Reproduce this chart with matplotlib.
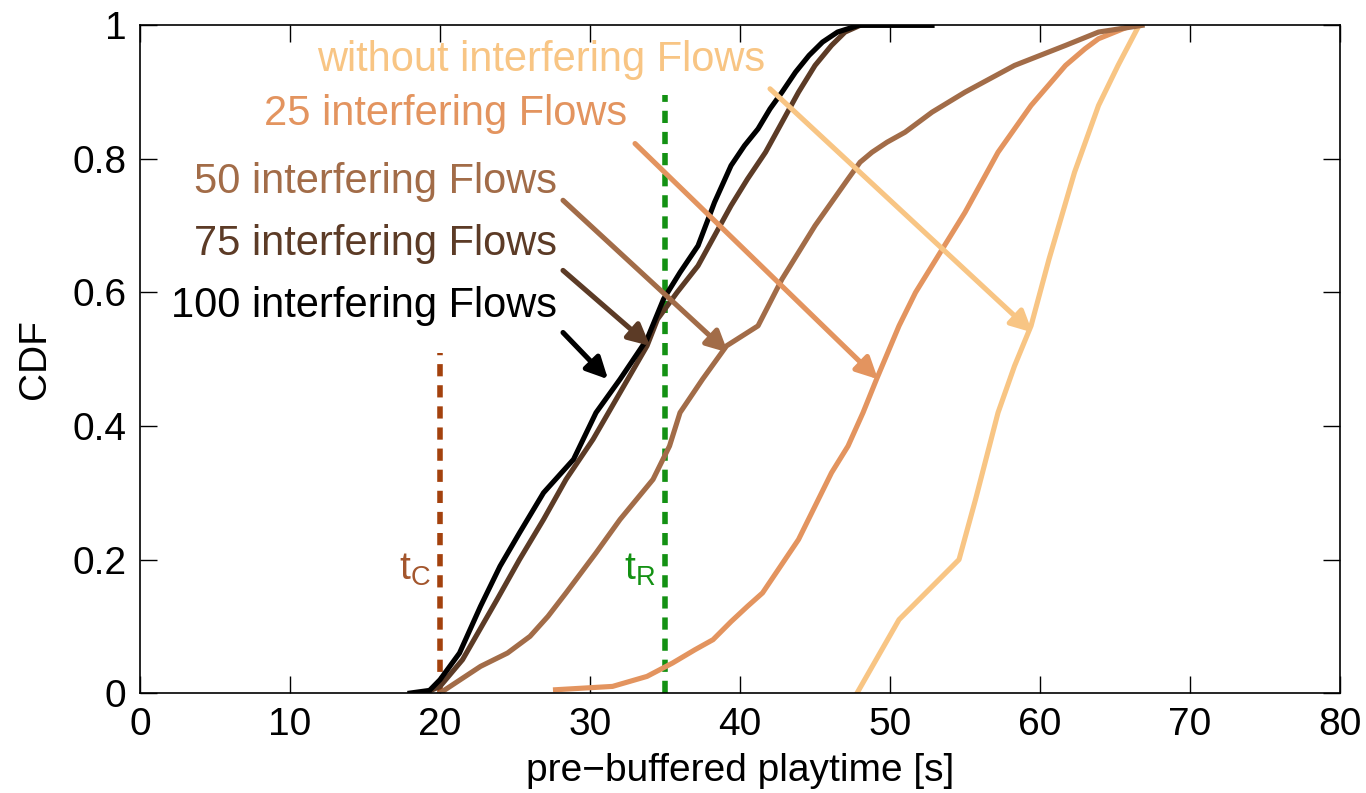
import matplotlib
matplotlib.use("Agg")
from matplotlib import pyplot as plt

plt.rcParams['font.family'] = ['Liberation Sans', 'DejaVu Sans']

# CDF curves of pre-buffered playtime, one per load level
x_none = [47.8, 50.6, 54.6, 55.7, 57.2, 58.3, 59.4, 60.6, 62.3, 63.9, 65.2, 66.6]
y_none = [0, 0.11, 0.20, 0.29, 0.42, 0.49, 0.55, 0.65, 0.78, 0.88, 0.94, 1.0]

x_25 = [27.7, 31.5, 33.8, 35.5, 37, 38.2, 39.4, 40.5, 41.5, 42.7, 43.9, 45,
        46.1, 47.2, 48.2, 49.1, 50.6, 51.7, 52.8, 55, 57.2, 59.4, 61.7, 63,
        63.9, 66.1]
y_25 = [0.005, 0.01, 0.025, 0.045, 0.065, 0.08, 0.107, 0.13, 0.15, 0.19,
        0.23, 0.28, 0.33, 0.37, 0.42, 0.47, 0.55, 0.60, 0.64, 0.72, 0.81,
        0.88, 0.94, 0.965, 0.98, 1.0]

x_50 = [20, 22.7, 24.5, 26, 27.2, 28.4, 30.4, 32, 34.2, 35.3, 36, 37.5, 39.1,
        41.2, 42.8, 45, 47.2, 48, 48.8, 49.8, 51, 52.8, 55, 58.3, 61.7, 63.9,
        66.8]
y_50 = [0, 0.04, 0.06, 0.085, 0.115, 0.15, 0.21, 0.26, 0.32, 0.37, 0.42, 0.47,
        0.52, 0.55, 0.62, 0.70, 0.77, 0.795, 0.81, 0.825, 0.84, 0.87, 0.90,
        0.94, 0.97, 0.99, 1.0]

x_75 = [19, 20, 21.5, 23.8, 25.3, 26.9, 28.4, 30.2, 32, 33.8, 34.5, 35.8, 37.2,
        38.3, 39.4, 40.5, 41.7, 42.8, 43.9, 45, 46.1, 47, 48]
y_75 = [0, 0.01, 0.05, 0.14, 0.2, 0.26, 0.32, 0.38, 0.45, 0.52, 0.56, 0.60,
        0.64, 0.685, 0.73, 0.77, 0.81, 0.855, 0.90, 0.94, 0.97, 0.99, 1.0]

x_100 = [18, 19.3, 20, 21.3, 22.7, 24, 25.3, 26.9, 28.9, 30.4, 32, 33.8, 34.9,
         36, 37.2, 38.3, 39.4, 40.3, 41.2, 42, 42.8, 43.7, 44.6, 45.5, 46.5,
         47.9, 52.8]
y_100 = [0, 0.004, 0.02, 0.06, 0.13, 0.19, 0.24, 0.30, 0.35, 0.42, 0.47, 0.53,
         0.59, 0.63, 0.67, 0.735, 0.79, 0.82, 0.845, 0.875, 0.90, 0.93, 0.955,
         0.975, 0.99, 1.0, 1.0]

labels = ['without interfering Flows', '25 interfering Flows',
          '50 interfering Flows', '75 interfering Flows',
          '100 interfering Flows']
colors = ['#f8c584', '#e3945f', '#a26c48', '#5c3b26', '#000000']
series = [(x_none, y_none), (x_25, y_25), (x_50, y_50), (x_75, y_75),
          (x_100, y_100)]

# label anchor (right end of text) and arrow start / tip in data units
label_pos = [(41.7, 0.948), (32.5, 0.868), (27.8, 0.766), (27.8, 0.673),
             (27.8, 0.579)]
arrow_from = [(42.0, 0.905), (33.0, 0.823), (28.2, 0.738), (28.2, 0.633),
              (28.2, 0.54)]
arrow_to = [(59.5, 0.54), (49.2, 0.47), (39.2, 0.51), (34.0, 0.52),
            (31.2, 0.47)]

t_c, t_c_top = 20, 0.51
t_r, t_r_top = 35, 0.895

fs = 28

fig = plt.figure(figsize=(13.66, 7.93), dpi=100)
ax = fig.add_axes([0.1025, 0.126, 0.8785, 0.842])

ax.plot([t_c, t_c], [0, t_c_top], color='#a3410d', lw=4, ls=(0, (2.2, 1.6)))
ax.plot([t_r, t_r], [0, t_r_top], color='#139113', lw=4, ls=(0, (2.2, 1.6)))
ax.text(t_c - 0.6, 0.185, r'$\mathregular{t_C}$', color='#a3562d', fontsize=fs,
        ha='right', va='center')
ax.text(t_r - 0.6, 0.185, r'$\mathregular{t_R}$', color='#139113', fontsize=fs,
        ha='right', va='center')

for (xs, ys), c in zip(series, colors):
    ax.plot(xs, ys, color=c, lw=3.7, solid_joinstyle='round')

for lab, c, lp, a0, a1 in zip(labels, colors, label_pos, arrow_from, arrow_to):
    ax.text(lp[0], lp[1], lab, color=c, fontsize=30, ha='right', va='center')
    ax.annotate('', xy=a1, xytext=a0,
                arrowprops=dict(arrowstyle='-|>', color=c, lw=3.7,
                                mutation_scale=32, shrinkA=0, shrinkB=0))

ax.set_xlim(0, 80)
ax.set_ylim(0, 1)
ax.set_xticks(range(0, 81, 10))
ax.set_yticks([0, 0.2, 0.4, 0.6, 0.8, 1])
ax.set_yticklabels(['0', '0.2', '0.4', '0.6', '0.8', '1'])
ax.tick_params(direction='in', length=12, width=1, labelsize=fs,
               top=True, right=True, pad=10)
for s in ax.spines.values():
    s.set_linewidth(1.2)
ax.set_xlabel('pre\u2212buffered playtime [s]', fontsize=fs, labelpad=7)
ax.set_ylabel('CDF', fontsize=fs, labelpad=14)

fig.savefig('out.png', dpi=100)
